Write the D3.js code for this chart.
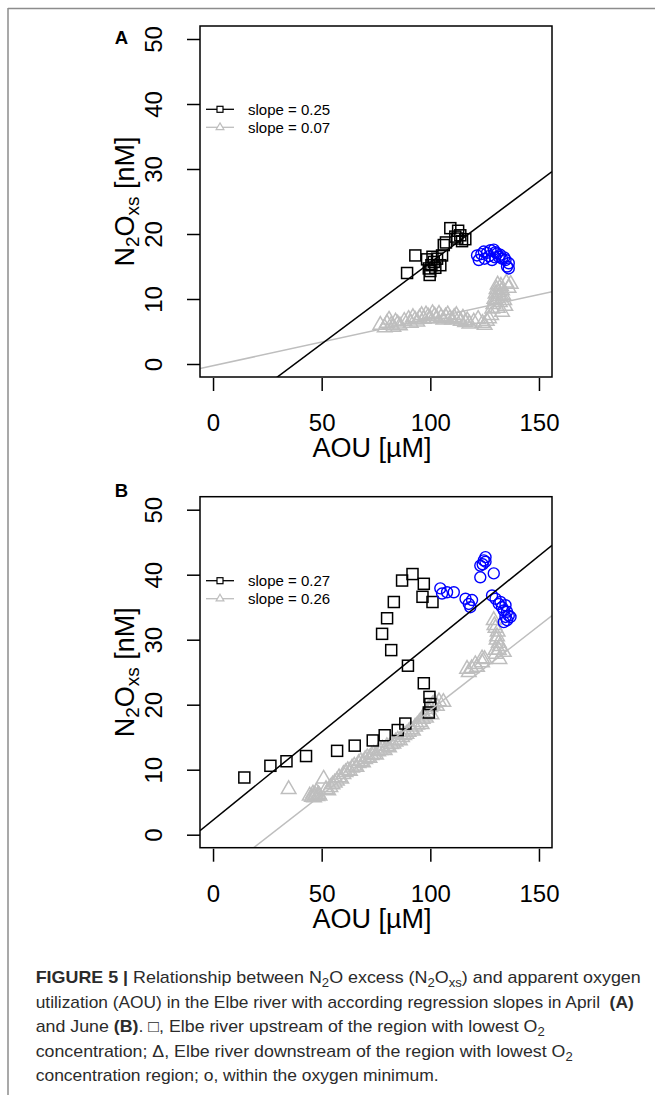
<!DOCTYPE html>
<html>
<head>
<meta charset="utf-8">
<title>N2O excess vs AOU</title>
<script src="https://d3js.org/d3.v7.min.js"></script>
<style>
body { margin:0; background:#fff; }
svg { display:block; font-family:"Liberation Sans", Arial, sans-serif; }
.cap { font-size:17px; fill:#2b2b2b; white-space:pre; }
</style>
</head>
<body>
<svg id="fig" width="655" height="1095"></svg>
<script>
// ---- data (AOU [uM], N2Oxs [nM]) ----
var xTicks = [0, 50, 100, 150];
var yTicks = [0, 10, 20, 30, 40, 50];

// April (A)
var aprSquares = [[89.3,14.0],[93.1,16.7],[98.5,16.1],[99.3,14.7],[99.7,13.7],[100.0,14.3],[101.6,15.7],
  [103.1,16.2],[104.6,15.2],[105.4,16.7],[106.2,18.3],[107.2,18.7],[109.2,20.9],[111.5,19.6],[112.8,20.5],
  [112.4,19.3],[113.8,19.8],[116.1,19.2],[114.6,18.9],[100.5,15.2],[102.3,14.8],[101.0,16.5]];
var aprTriangles = [[77,6.0],[79,5.6],[80,6.3],[81,6.8],[82,6.0],[83,5.7],[84,6.5],[85,6.2],[86,5.9],[88,6.6],
  [90,6.9],[91,6.3],[92,7.2],[93,6.8],[94,6.5],[95,7.1],[96,7.5],[97,6.9],[98,7.6],[99,7.3],[100,7.0],
  [101,7.8],[102,7.4],[103,7.0],[104,7.7],[105,7.2],[106,6.8],[107,7.3],[108,7.6],[109,7.0],[110,6.8],
  [111,7.2],[112,7.5],[113,6.9],[114,6.6],[115,7.1],[116,6.4],[117,6.7],[118,6.2],[120,6.5],[122,6.9],
  [124,6.3],[125,6.0],[126,6.6],[127,7.0],[128,7.5],[128.5,8.5],[129,9.2],[129.5,10.0],[130,10.8],
  [130.5,11.5],[131,12.2],[131.5,11.0],[132,10.4],[132,9.5],[132.5,12.0],[133,11.3],[133.5,10.6],
  [134,9.8],[134.5,8.9],[135,12.5],[136,11.7],[130,9.8],[131,8.6],[133,8.0],[137,12.3]];
var aprCircles = [[121.5,16.7],[122.3,16.0],[123.5,16.9],[124.6,17.3],[126.1,17.1],[127.0,16.6],[127.7,17.5],
  [128.4,16.0],[129.2,17.6],[130.0,17.2],[130.7,17.0],[131.5,16.5],[132.2,16.8],[133.0,16.2],[134.0,16.4],
  [134.6,16.0],[135.3,15.0],[136.1,15.5],[136.1,14.7],[125.0,16.2],[129.8,16.4]];
var aprFitBlack = [0.25, -9.4];   // slope, intercept
var aprFitGrey = [0.073, -0.27];
var aprLegend = ["slope = 0.25", "slope = 0.07"];

// June (B)
var junSquares = [[14.4,8.8],[26.4,10.6],[33.8,11.3],[42.8,12.1],[57.1,12.9],[65.2,13.7],[73.5,14.5],
  [79.0,15.3],[85.0,16.1],[88.5,17.1],[89.7,26.0],[97.0,23.3],[99.6,21.2],[100.0,20.1],[99.3,18.8],
  [82.0,28.4],[77.8,30.9],[80.1,33.3],[83.2,35.8],[87.0,39.1],[91.8,40.1],[97.0,38.6],[96.4,36.6],[101.0,35.8]];
var junTriangles = [[34.8,7.0],[44.5,6.0],[45.5,5.8],[46,6.3],[46.5,5.7],[47,6.1],[47.5,6.6],[48,5.9],
  [48.5,6.2],[49,6.0],[50.9,8.6],[52,7.0],[53,6.8],[54,7.3],[55,7.7],[56,8.0],[57,8.3],[58,8.8],[59,8.6],
  [60,9.3],[61,9.6],[62,9.9],[63,9.8],[64,10.3],[65,10.6],[66,10.4],[67,11.0],[68,11.3],[69,11.1],
  [70,11.6],[71,11.9],[72,11.8],[73,12.2],[74,12.4],[75,12.3],[76,12.8],[77,13.0],[78,13.2],[79,13.0],
  [80,13.6],[81,13.4],[82,13.9],[83,14.0],[84,14.3],[85,14.6],[86,14.5],[87,15.0],[88,15.3],[89,15.5],
  [90,15.8],[91,16.2],[92,16.0],[93,16.6],[94,16.9],[95,17.3],[96,17.0],[96.5,17.8],[97,18.3],[98,18.0],
  [98.5,18.8],[99,19.3],[100,19.6],[100.5,18.5],[101,20.0],[102,20.3],[103,19.8],[104,20.5],[106,20.4],
  [116.9,25.5],[117.7,25.0],[119,25.6],[120.7,26.2],[121.5,25.8],[123.8,26.5],[123.8,27.1],[125,27.0],
  [129.2,33.0],[130,31.8],[130.7,30.5],[131.5,29.5],[130,28.4],[131.5,28.4],[130.5,30.0],[131,31.2],
  [129.5,32.2],[132,29.0],[130.2,27.8],[131.8,27.0],[133.8,28.1]];
var junCircles = [[104.6,37.9],[105.4,37.1],[107.7,37.3],[110.8,37.3],[116.2,36.3],[117.7,35.5],[118.4,35.0],
  [119.2,36.1],[123.0,41.4],[124.6,42.2],[125.4,42.7],[124.1,41.6],[125.4,42.0],[123.0,39.6],[129.2,40.2],
  [128.4,36.8],[130.0,36.3],[131.5,35.5],[132.3,35.8],[133.0,35.0],[134.6,35.3],[133.8,34.5],[135.3,34.3],
  [136.1,33.7],[134.6,33.5],[136.9,33.5],[133.8,32.7],[135.3,33.0]];
var junFitBlack = [0.271, 2.25];
var junFitGrey = [0.26, -6.86];
var junLegend = ["slope = 0.27", "slope = 0.26"];

var grey = "#bebebe", blue = "#0000ff";

var svg = d3.select("#fig");

// frame lines of the figure
svg.append("line").attr("x1", 8).attr("x2", 655).attr("y1", 8.5).attr("y2", 8.5)
  .attr("stroke", "#8c8c8c").attr("stroke-width", 1.5);
svg.append("line").attr("x1", 8).attr("x2", 8).attr("y1", 8).attr("y2", 1095)
  .attr("stroke", "#8c8c8c").attr("stroke-width", 1.5);

var plotL = 200, plotR = 552;
var x = d3.scaleLinear().domain([-6, 156]).range([plotL, plotR]);
var tri = d3.symbol().type(d3.symbolTriangle).size(92);
var triSmall = d3.symbol().type(d3.symbolTriangle).size(26);

function drawPanel(id, top, bottom, letter, letterY, squares, triangles, circles, fitB, fitG, legend, legY) {
  var y = d3.scaleLinear().domain([-2, 52]).range([bottom, top]);
  var g = svg.append("g");

  svg.append("clipPath").attr("id", id).append("rect")
    .attr("x", plotL).attr("y", top).attr("width", plotR - plotL).attr("height", bottom - top);
  var plot = g.append("g").attr("clip-path", "url(#" + id + ")");

  // points
  plot.selectAll(".tri").data(triangles).enter().append("path")
    .attr("d", tri).attr("transform", function(d) { return "translate(" + x(d[0]) + "," + y(d[1]) + ")"; })
    .attr("fill", "none").attr("stroke", grey).attr("stroke-width", 1.5);
  plot.selectAll(".sq").data(squares).enter().append("rect")
    .attr("x", function(d) { return x(d[0]) - 5.5; }).attr("y", function(d) { return y(d[1]) - 5.5; })
    .attr("width", 11).attr("height", 11)
    .attr("fill", "none").attr("stroke", "#000").attr("stroke-width", 1.5);
  plot.selectAll(".ci").data(circles).enter().append("circle")
    .attr("cx", function(d) { return x(d[0]); }).attr("cy", function(d) { return y(d[1]); }).attr("r", 5.5)
    .attr("fill", "none").attr("stroke", blue).attr("stroke-width", 1.4);

  // regression lines (abline)
  [[fitG, grey], [fitB, "#000"]].forEach(function(f) {
    var xd = x.domain();
    plot.append("line")
      .attr("x1", x(xd[0])).attr("y1", y(f[0][0] * xd[0] + f[0][1]))
      .attr("x2", x(xd[1])).attr("y2", y(f[0][0] * xd[1] + f[0][1]))
      .attr("stroke", f[1]).attr("stroke-width", 1.5);
  });

  // box
  g.append("rect").attr("x", plotL).attr("y", top).attr("width", plotR - plotL).attr("height", bottom - top)
    .attr("fill", "none").attr("stroke", "#000").attr("stroke-width", 1.5);

  // x axis
  var xa = g.append("g").attr("transform", "translate(0," + (bottom + 1) + ")")
    .call(d3.axisBottom(x).tickValues(xTicks).tickSize(13));
  xa.select(".domain").remove();
  xa.selectAll("line").attr("stroke", "#000").attr("stroke-width", 1.5);
  xa.selectAll("text").attr("y", 53).attr("dy", null)
    .attr("font-size", 24).attr("fill", "#000").attr("font-family", "Liberation Sans, Arial, sans-serif");
  g.append("text").attr("x", (plotL + plotR) / 2 - 4).attr("y", bottom + 80).attr("text-anchor", "middle")
    .attr("font-size", 27).text("AOU [\u00b5M]");

  // y axis
  var ya = g.append("g").attr("transform", "translate(" + plotL + ",0)")
    .call(d3.axisLeft(y).tickValues(yTicks).tickSize(13));
  ya.select(".domain").remove();
  ya.selectAll("line").attr("stroke", "#000").attr("stroke-width", 1.5);
  ya.selectAll("text").attr("x", 0).attr("dy", null).attr("text-anchor", "middle")
    .attr("transform", "translate(-38.5,0) rotate(-90)")
    .attr("font-size", 24).attr("fill", "#000").attr("font-family", "Liberation Sans, Arial, sans-serif");

  var yt = g.append("text").attr("text-anchor", "middle").attr("font-size", 27)
    .attr("transform", "translate(134," + ((top + bottom) / 2) + ") rotate(-90)");
  yt.append("tspan").text("N");
  yt.append("tspan").attr("font-size", 19).attr("dy", 5).text("2");
  yt.append("tspan").attr("dy", -5).text("O");
  yt.append("tspan").attr("font-size", 19).attr("dy", 5).text("xs");
  yt.append("tspan").attr("dy", -5).text(" [nM]");

  // panel letter
  g.append("text").attr("x", 121.5).attr("y", letterY).attr("text-anchor", "middle")
    .attr("font-size", 18.5).attr("font-weight", "bold").text(letter);

  // legend
  legend.forEach(function(txt, i) {
    var ly = legY + i * 18, col = i === 0 ? "#000" : grey;
    g.append("line").attr("x1", 206).attr("x2", 234).attr("y1", ly).attr("y2", ly)
      .attr("stroke", col).attr("stroke-width", 1.3);
    if (i === 0) {
      g.append("rect").attr("x", 217).attr("y", ly - 3).attr("width", 6).attr("height", 6)
        .attr("fill", "#fff").attr("stroke", col).attr("stroke-width", 1.2);
    } else {
      g.append("path").attr("d", triSmall).attr("transform", "translate(220," + ly + ")")
        .attr("fill", "#fff").attr("stroke", col).attr("stroke-width", 1.2);
    }
    g.append("text").attr("x", 248).attr("y", ly).attr("dy", "0.35em").attr("font-size", 15).text(txt);
  });
}

drawPanel("clipA", 26, 377, "A", 43.5, aprSquares, aprTriangles, aprCircles, aprFitBlack, aprFitGrey, aprLegend, 109.3);
drawPanel("clipB", 496.7, 847.7, "B", 496.5, junSquares, junTriangles, junCircles, junFitBlack, junFitGrey, junLegend, 580.7);

// caption
var capLines = [
  [{t: "FIGURE 5 | ", b: 1}, {t: "Relationship between N"}, {t: "2", s: 1}, {t: "O excess (N"}, {t: "2", s: 1},
   {t: "O"}, {t: "xs", s: 1}, {t: ") and apparent oxygen"}],
  [{t: "utilization (AOU) in the Elbe river with according regression slopes in April  "}, {t: "(A)", b: 1}],
  [{t: "and June "}, {t: "(B)", b: 1}, {t: ". \u25a1, Elbe river upstream of the region with lowest O"}, {t: "2", s: 1}],
  [{t: "concentration; \u0394, Elbe river downstream of the region with lowest O"}, {t: "2", s: 1}],
  [{t: "concentration region; o, within the oxygen minimum."}]
];
var capWidths = [605, 598, 509, 537, 403];
capLines.forEach(function(segs, i) {
  var t = svg.append("text").attr("class", "cap").attr("x", 35.7).attr("y", 983 + i * 24.6)
    .attr("textLength", capWidths[i]).attr("lengthAdjust", "spacingAndGlyphs");
  var shifted = false;
  segs.forEach(function(sg) {
    var sp = t.append("tspan").text(sg.t);
    if (sg.b) sp.attr("font-weight", "bold");
    if (sg.s) { sp.attr("font-size", 12.5); if (!shifted) { sp.attr("dy", 4); shifted = true; } }
    else if (shifted) { sp.attr("dy", -4); shifted = false; }
  });
});
</script>
</body>
</html>
